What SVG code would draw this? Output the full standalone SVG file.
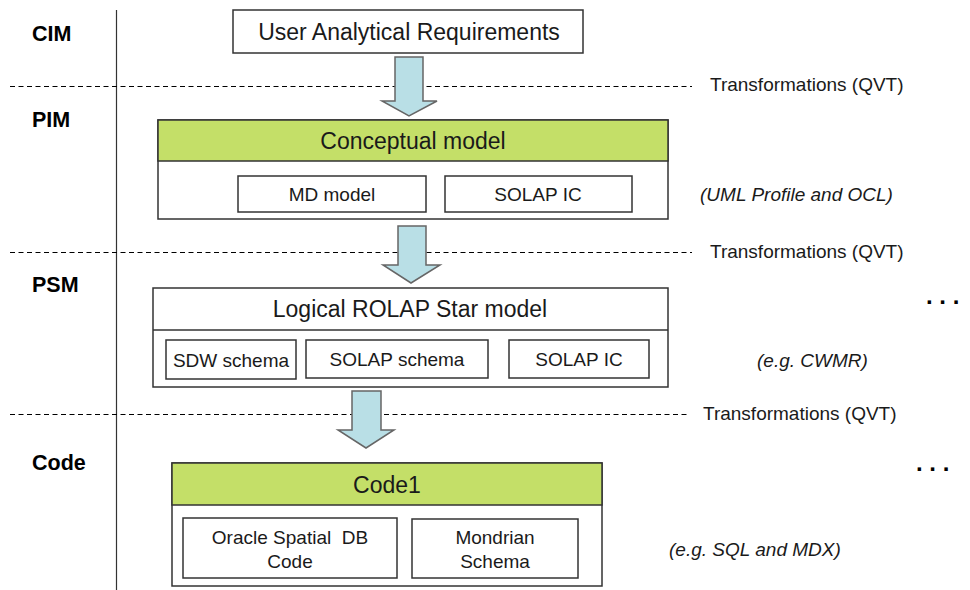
<svg xmlns="http://www.w3.org/2000/svg" width="970" height="590" viewBox="0 0 970 590">
<style>
text{font-family:"Liberation Sans",Arial,sans-serif;fill:#1a1a1a;white-space:pre}
.lvl{font-size:21.5px;font-weight:bold;fill:#000}
.t22{font-size:23px;text-anchor:middle}
.t18{font-size:19px;text-anchor:middle}
.tr{font-size:19px}
.it{font-size:19px;font-style:italic}
.box{fill:#fff;stroke:#333;stroke-width:1.5}
.hdr{fill:#c4df68;stroke:#333;stroke-width:1.5}
.dash{stroke:#000;stroke-width:1;stroke-dasharray:5,3.5;fill:none}
.arr{fill:#b9dfe6;stroke:#666;stroke-width:1.5}
.dots{font-size:24px;font-weight:bold;fill:#000}
</style>
<rect width="970" height="590" fill="#fff"/>
<line x1="116.5" y1="10" x2="116.5" y2="590" stroke="#333" stroke-width="1.2"/>
<g id="levels">
<text class="lvl" x="32" y="41">CIM</text>
<text class="lvl" x="32" y="127">PIM</text>
<text class="lvl" x="32" y="292">PSM</text>
<text class="lvl" x="32" y="470">Code</text>
</g>
<g id="separators">
<line class="dash" x1="10" y1="86.5" x2="692" y2="86.5"/>
<line class="dash" x1="10" y1="252.5" x2="692" y2="252.5"/>
<line class="dash" x1="10" y1="414.5" x2="688" y2="414.5"/>
<text class="tr" x="710" y="91">Transformations (QVT)</text>
<text class="tr" x="710" y="258">Transformations (QVT)</text>
<text class="tr" x="703" y="420">Transformations (QVT)</text>
</g>
<g id="cim">
<rect class="box" x="233" y="10" width="350" height="43"/>
<text class="t22" x="409" y="40">User Analytical Requirements</text>
</g>
<g id="pim">
<rect class="box" x="158" y="120" width="510" height="99"/>
<rect class="hdr" x="158" y="120" width="510" height="41"/>
<text class="t22" x="413" y="149">Conceptual model</text>
<rect class="box" x="238" y="176" width="188" height="36"/>
<text class="t18" x="332" y="201">MD model</text>
<rect class="box" x="445" y="176" width="187" height="36"/>
<text class="t18" x="538" y="201">SOLAP IC</text>
<text class="it" x="700" y="201">(UML Profile and OCL)</text>
</g>
<g id="psm">
<rect class="box" x="153" y="288" width="515" height="99"/>
<line x1="153" y1="330" x2="668" y2="330" stroke="#333" stroke-width="1.5"/>
<text class="t22" x="410" y="317">Logical ROLAP Star model</text>
<rect class="box" x="166" y="340" width="130" height="39"/>
<text class="t18" x="231" y="367">SDW schema</text>
<rect class="box" x="306" y="340" width="182" height="38"/>
<text class="t18" x="397" y="366">SOLAP schema</text>
<rect class="box" x="509" y="340" width="140" height="38"/>
<text class="t18" x="579" y="366">SOLAP IC</text>
<text class="it" x="757" y="367">(e.g. CWMR)</text>
</g>
<g id="code">
<rect class="box" x="172" y="463" width="430" height="123"/>
<rect class="hdr" x="172" y="463" width="430" height="42"/>
<text class="t22" x="387" y="493">Code1</text>
<rect class="box" x="183" y="518" width="214" height="60"/>
<text class="t18" x="290" y="544">Oracle Spatial  DB</text>
<text class="t18" x="290" y="568">Code</text>
<rect class="box" x="412" y="519" width="166" height="59"/>
<text class="t18" x="495" y="544">Mondrian</text>
<text class="t18" x="495" y="568">Schema</text>
<text class="it" x="669" y="556">(e.g. SQL and MDX)</text>
</g>
<g id="ellipses">
<text class="dots" x="926" y="304">. . .</text>
<text class="dots" x="916" y="471">. . .</text>
</g>
<g id="connectors">
<path class="arr" d="M395,57 H423 V101 H437 L409,116 L382,101 H395 Z"/>
<path class="arr" d="M398,226 H426 V265 H440 L411,283 L383,265 H398 Z"/>
<path class="arr" d="M352,391 H381 V430 H394 L366,448 L338,430 H352 Z"/>
</g>
</svg>
